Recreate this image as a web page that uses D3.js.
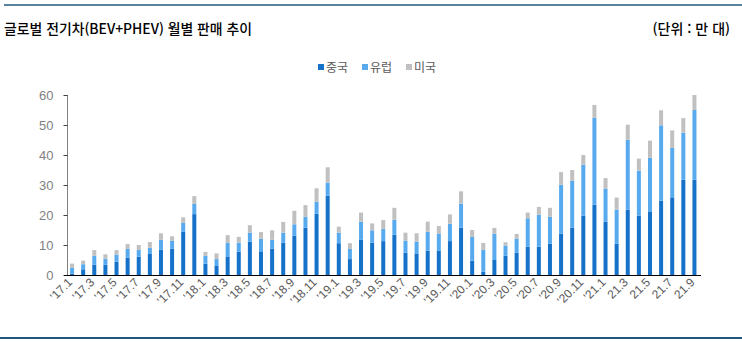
<!DOCTYPE html>
<html lang="ko">
<head>
<meta charset="utf-8">
<title>글로벌 전기차 월별 판매 추이</title>
<script src="https://cdn.jsdelivr.net/npm/d3@7"></script>
<style>
  body { margin: 0; background: #fff; }
  text { font-family: "Noto Sans CJK KR", "Noto Sans", sans-serif; }
</style>
</head>
<body>
<script>
// months and series (unit: 10k vehicles)
var months = ["'17.1","'17.2","'17.3","'17.4","'17.5","'17.6","'17.7","'17.8","'17.9","'17.10","'17.11","'17.12",
              "'18.1","'18.2","'18.3","'18.4","'18.5","'18.6","'18.7","'18.8","'18.9","'18.10","'18.11","'18.12",
              "'19.1","'19.2","'19.3","'19.4","'19.5","'19.6","'19.7","'19.8","'19.9","'19.10","'19.11","'19.12",
              "'20.1","'20.2","'20.3","'20.4","'20.5","'20.6","'20.7","'20.8","'20.9","'20.10","'20.11","'20.12",
              "'21.1","21.2","21.3","21.4","21.5","21.6","21.7","21.8","21.9"];

var china  = [0.5, 1.9, 3.4, 3.4, 4.4, 5.8, 6.1, 7.0, 8.4, 8.8, 14.4, 20.3,
              3.8, 3.0, 6.2, 7.8, 11.1, 7.9, 8.8, 10.8, 13.1, 15.8, 20.4, 26.4,
              10.6, 5.3, 11.7, 10.8, 11.3, 13.4, 7.4, 7.2, 8.1, 8.2, 11.3, 15.8,
              4.8, 1.1, 5.0, 6.4, 7.4, 9.4, 9.4, 10.4, 13.8, 15.8, 19.8, 23.4,
              17.8, 10.4, 21.8, 19.8, 21.2, 24.8, 25.9, 31.8, 31.8];

var europe = [1.9, 1.7, 3.0, 2.0, 2.4, 2.9, 2.3, 2.1, 3.3, 2.6, 3.0, 3.4,
              2.6, 2.3, 4.5, 3.0, 3.0, 4.2, 3.0, 3.3, 3.8, 3.6, 4.0, 4.4,
              3.5, 3.4, 6.1, 4.1, 4.1, 5.0, 4.0, 3.9, 6.3, 5.5, 5.8, 8.0,
              7.9, 7.3, 8.7, 3.4, 4.7, 9.5, 10.7, 9.0, 16.3, 15.6, 17.0, 29.0,
              11.0, 11.4, 23.3, 15.0, 17.9, 25.1, 16.5, 15.6, 23.2];

var usa    = [1.4, 1.2, 1.9, 1.5, 1.5, 1.6, 1.6, 1.9, 2.2, 1.5, 1.8, 2.6,
              1.3, 1.9, 2.6, 1.9, 2.5, 2.2, 3.1, 3.6, 4.5, 3.9, 4.5, 5.1,
              2.0, 1.9, 3.0, 2.3, 2.9, 4.0, 2.7, 2.8, 3.4, 2.6, 3.1, 4.1,
              2.3, 2.3, 2.0, 1.1, 1.6, 1.9, 2.6, 3.0, 4.2, 3.6, 3.2, 4.3,
              3.5, 4.0, 5.0, 4.0, 5.7, 5.0, 5.8, 4.9, 5.0];

var seriesNames = ["중국", "유럽", "미국"];
var colors = ["#1672c9", "#58aaef", "#c0c0c0"];
var yTicks = [0, 10, 20, 30, 40, 50, 60];

var w = 742, h = 342;
var svg = d3.select("body").append("svg")
  .attr("width", w).attr("height", h);

// frame lines
svg.append("line").attr("x1", 4).attr("x2", 742).attr("y1", 5).attr("y2", 5)
  .attr("stroke", "#1f5a7e").attr("stroke-width", 1.5);
svg.append("line").attr("x1", 0).attr("x2", 742).attr("y1", 338).attr("y2", 338)
  .attr("stroke", "#1f5a7e").attr("stroke-width", 2);

// title + unit
svg.append("text").attr("x", 4).attr("y", 34)
  .attr("font-size", 14).attr("font-weight", 500).attr("fill", "#000")
  .attr("textLength", 248).attr("lengthAdjust", "spacingAndGlyphs")
  .text("글로벌 전기차(BEV+PHEV) 월별 판매 추이");
svg.append("text").attr("x", 730).attr("y", 34)
  .attr("font-size", 14).attr("font-weight", 500).attr("fill", "#000").attr("text-anchor", "end")
  .text("(단위 : 만 대)");

// scales
var x = d3.scaleBand()
  .domain(months)
  .range([66.5, 700])
  .paddingInner(0.64)
  .paddingOuter(0.32);

var y = d3.scaleLinear().domain([0, 60]).range([275, 95]);

// stack
var rows = months.map(function(m, i) {
  return { month: m, "중국": china[i], "유럽": europe[i], "미국": usa[i] };
});
var stacked = d3.stack().keys(seriesNames)(rows);

svg.append("g").selectAll("g")
  .data(stacked)
  .enter().append("g")
  .attr("fill", function(d, i) { return colors[i]; })
  .selectAll("rect")
  .data(function(d) { return d; })
  .enter().append("rect")
  .attr("x", function(d) { return x(d.data.month); })
  .attr("width", x.bandwidth())
  .attr("y", function(d) { return y(d[1]); })
  .attr("height", function(d) { return y(d[0]) - y(d[1]); });

// y axis
var yAxis = svg.append("g").attr("transform", "translate(67.5,0)")
  .call(d3.axisLeft(y).tickValues(yTicks).tickSize(4).tickPadding(10));
yAxis.select(".domain").attr("stroke", "#808080").attr("d", "M0,95V275");
yAxis.selectAll(".tick line").attr("stroke", "#404040");
yAxis.selectAll("text").attr("fill", "#7f7f7f").attr("font-size", 13)
  .style("font-family", "'Liberation Sans', Arial, sans-serif");

// x axis
svg.append("line").attr("x1", 64).attr("x2", 701)
  .attr("y1", 275.5).attr("y2", 275.5).attr("stroke", "#000").attr("stroke-width", 1.2);

svg.append("g").selectAll("text")
  .data(months.filter(function(d, i) { return i % 2 === 0; }))
  .enter().append("text")
  .attr("transform", function(d) {
    return "translate(" + (x(d) + x.bandwidth() / 2 + 1) + ",283) rotate(-45)";
  })
  .attr("text-anchor", "end")
  .attr("font-size", 12)
  .attr("fill", "#595959")
  .style("font-family", "'Liberation Sans', Arial, sans-serif")
  .text(function(d) { return d; });

// legend
var legend = svg.append("g").selectAll("g")
  .data(seriesNames)
  .enter().append("g")
  .attr("transform", function(d, i) { return "translate(" + (318 + i * 44) + ",68)"; });
legend.append("rect").attr("x", 0).attr("y", -4).attr("width", 6).attr("height", 6)
  .attr("fill", function(d, i) { return colors[i]; });
legend.append("text").attr("x", 8).attr("y", 4)
  .attr("font-size", 12).attr("fill", "#595959")
  .text(function(d) { return d; });
</script>
</body>
</html>
